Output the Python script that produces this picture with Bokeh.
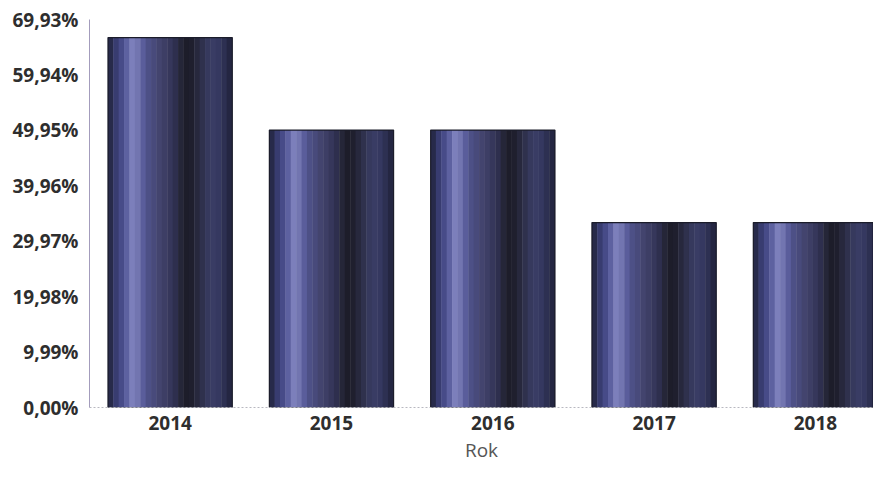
from bokeh.plotting import figure
from bokeh.models import ColumnDataSource, FixedTicker, Range1d
from bokeh.transform import dodge
from bokeh.embed import file_html
from bokeh.resources import INLINE

# ---- data ----
years = ["2014", "2015", "2016", "2017", "2018"]
shares = [66.67, 50.0, 50.0, 33.33, 33.33]
y_ticks = [0.0, 9.99, 19.98, 29.97, 39.96, 49.95, 59.94, 69.93]
y_tick_labels = ["0,00%", "9,99%", "19,98%", "29,97%", "39,96%", "49,95%", "59,94%", "69,93%"]
x_label = "Rok"

# ---- style ----
FONT = "Open Sans"
BAR_W = 0.77
# colours of vertical strips across a bar, left to right (shaded cylinder look)
strip_colors = [
    "#272a4a", "#383c70", "#474b88", "#5d61a0", "#7c7fbb", "#7275b0",
    "#5a5d9b", "#4d5086", "#484a7b", "#43446e", "#3d3e65", "#36375b",
    "#2e2f4e", "#252638", "#1d1d2a", "#1f1f2e", "#27283d", "#2f314d",
    "#36395d", "#393c64", "#353860", "#2d3052", "#242642",
]

idx = list(range(len(years)))
src = ColumnDataSource(dict(x=idx, top=shares, year=years))

p = figure(width=873, height=465, output_backend="svg", toolbar_location=None,
           x_range=Range1d(-0.5, 4.36), y_range=Range1d(0, 69.93),
           min_border_left=89, min_border_right=0, min_border_top=19,
           min_border_bottom=58)
p.outline_line_color = None
p.background_fill_color = "white"
p.border_fill_color = "white"
p.xgrid.grid_line_color = None
p.ygrid.grid_line_color = None

n = len(strip_colors)
sw = BAR_W / n
for i, c in enumerate(strip_colors):
    off = -BAR_W / 2 + (i + 0.5) * sw
    p.vbar(x=dodge("x", off), top="top", bottom=0, width=sw * 1.08, source=src,
           fill_color=c, line_color=None)
p.vbar(x="x", top="top", bottom=0, width=BAR_W, source=src,
       fill_color=None, line_color="#1b1c2a", line_width=1.2)

# axes
p.xaxis.ticker = FixedTicker(ticks=idx)
p.xaxis.major_label_overrides = {i: y for i, y in zip(idx, years)}
p.xaxis.major_tick_line_color = None
p.xaxis.major_tick_out = 0
p.xaxis.major_tick_in = 0
p.xaxis.minor_tick_line_color = None
p.xaxis.minor_tick_out = 0
p.xaxis.major_label_standoff = 8
p.xaxis.major_label_text_font = FONT
p.xaxis.major_label_text_font_size = "19px"
p.xaxis.major_label_text_font_style = "bold"
p.xaxis.major_label_text_color = "#2e2e2e"
p.xaxis.axis_line_color = "#b8b8c0"
p.xaxis.axis_line_dash = "2 2"
p.xaxis.axis_line_width = 1
p.xaxis.axis_label = x_label
p.xaxis.axis_label_text_font = FONT
p.xaxis.axis_label_text_font_size = "19px"
p.xaxis.axis_label_text_font_style = "normal"
p.xaxis.axis_label_text_color = "#555555"
p.xaxis.axis_label_standoff = 4

p.yaxis.ticker = FixedTicker(ticks=y_ticks)
p.yaxis.major_label_overrides = {t: l for t, l in zip(y_ticks, y_tick_labels)}
p.yaxis.major_tick_line_color = None
p.yaxis.major_tick_out = 0
p.yaxis.major_tick_in = 0
p.yaxis.minor_tick_line_color = None
p.yaxis.minor_tick_out = 0
p.yaxis.major_label_standoff = 11
p.yaxis.major_label_text_font = FONT
p.yaxis.major_label_text_font_size = "19px"
p.yaxis.major_label_text_font_style = "bold"
p.yaxis.major_label_text_color = "#2e2e2e"
p.yaxis.axis_line_color = "#a39cbc"
p.yaxis.axis_line_width = 1

open("out.html", "w").write(file_html(p, INLINE))
